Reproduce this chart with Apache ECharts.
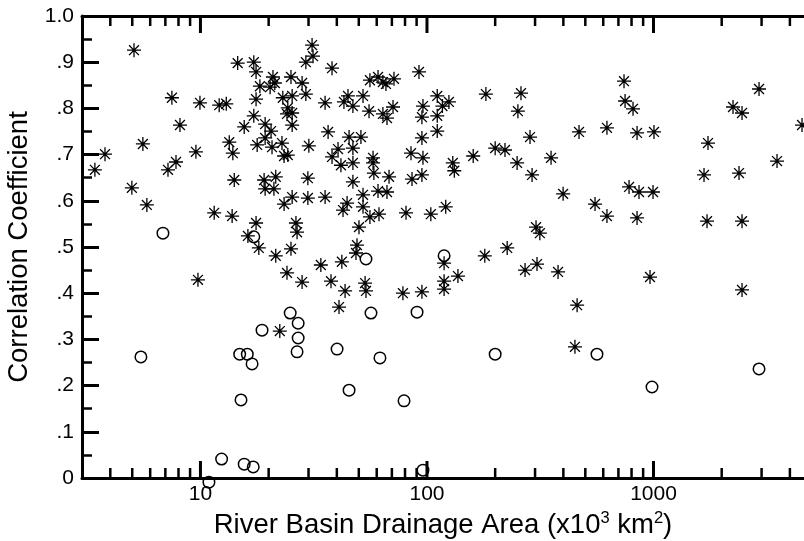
<!DOCTYPE html>
<html>
<head>
<meta charset="utf-8">
<script src="https://cdn.jsdelivr.net/npm/echarts@6/dist/echarts.min.js"></script>
<style>html,body{margin:0;padding:0;background:#fff;}#c{width:804px;height:541px;}</style>
</head>
<body>
<div id="c"></div>
<script>
// Asterisk points: drainage area (x10^3 km^2) and correlation coefficient
const starArea = [3.42,3.79,5.09,4.98,5.57,5.80,7.19,7.80,7.48,8.12,9.55,9.95,9.75,11.5,12.1,13.0,13.4,13.9,13.8,14.1,14.6,15.6,16.2,17.2,17.6,17.6,17.2,17.8,17.6,18.1,18.3,19.1,19.3,21.1,21.5,19.3,20.5,19.3,20.7,20.3,20.9,21.3,21.5,22.4,22.9,23.1,23.4,24.3,23.4,24.1,24.3,24.1,25.4,25.4,25.1,25.4,25.1,25.4,26.4,26.7,28.1,28.1,29.2,29.2,29.8,29.8,30.1,31.1,31.4,34.0,35.5,35.5,36.6,37.7,38.1,38.1,40.5,40.9,41.7,42.1,42.6,43.0,44.4,44.8,45.3,43.5,47.1,47.1,47.1,47.1,49.1,48.6,50.1,51.1,52.2,52.2,52.2,53.3,53.8,55.5,56.0,56.0,57.8,57.8,58.3,60.8,60.8,61.4,63.9,65.9,63.9,66.6,70.8,66.6,68.0,71.5,78.3,80.8,85.0,85.9,92.2,95.0,96.0,95.0,95.0,96.0,95.0,104,111,117,125,111,111,119,119,119,121,130,132,137,160,182,180,200,221,226,250,260,252,271,285,291,303,315,306,353,379,399,460,450,469,552,623,623,741,749,812,780,863,995,846,1005,846,965,1671,1740,1723,2244,2459,2385,2459,2459,2923,3510,4525];
const starCorr = [0.667,0.701,0.926,0.628,0.723,0.591,0.667,0.684,0.823,0.764,0.706,0.812,0.429,0.574,0.807,0.810,0.727,0.703,0.567,0.645,0.898,0.760,0.524,0.900,0.879,0.820,0.784,0.721,0.552,0.498,0.848,0.645,0.626,0.626,0.652,0.766,0.751,0.736,0.716,0.846,0.868,0.855,0.481,0.318,0.725,0.823,0.697,0.699,0.593,0.444,0.801,0.788,0.790,0.764,0.868,0.608,0.496,0.827,0.552,0.532,0.855,0.424,0.831,0.900,0.649,0.606,0.719,0.937,0.913,0.461,0.608,0.812,0.749,0.426,0.887,0.695,0.712,0.370,0.677,0.468,0.580,0.814,0.595,0.827,0.738,0.405,0.805,0.714,0.682,0.641,0.504,0.487,0.543,0.738,0.827,0.613,0.587,0.422,0.405,0.794,0.565,0.861,0.693,0.682,0.660,0.868,0.621,0.571,0.857,0.853,0.788,0.779,0.803,0.619,0.652,0.864,0.400,0.574,0.703,0.647,0.879,0.656,0.805,0.781,0.736,0.693,0.403,0.571,0.827,0.805,0.814,0.784,0.751,0.409,0.426,0.465,0.587,0.682,0.665,0.437,0.697,0.831,0.481,0.714,0.710,0.498,0.682,0.833,0.794,0.450,0.738,0.656,0.543,0.530,0.463,0.693,0.446,0.615,0.374,0.284,0.749,0.593,0.567,0.758,0.859,0.816,0.799,0.630,0.619,0.619,0.747,0.749,0.563,0.435,0.656,0.725,0.556,0.803,0.790,0.660,0.556,0.407,0.842,0.686,0.764];
// Open-circle points
const circleArea = [6.83,5.46,14.9,16.1,16.9,15.1,12.4,15.6,17.1,10.9,17.2,18.7,24.9,27.0,27.0,26.7,40.1,62.0,45.3,79.2,53.8,56.6,90.4,119,200,96.0,563,985,2923];
const circleCorr = [0.530,0.262,0.268,0.268,0.247,0.169,0.041,0.030,0.024,-0.009,0.522,0.320,0.357,0.335,0.303,0.273,0.279,0.260,0.190,0.167,0.474,0.357,0.359,0.481,0.268,0.017,0.268,0.197,0.236];
// Axis ticks
const xMajorTicks = [10, 100, 1000];
const xMinorTicks = [4,5,6,7,8,9,20,30,40,50,60,70,80,90,200,300,400,500,600,700,800,900,2000,3000,4000];
const yTickLabels = {0:'0',1:'.1',2:'.2',3:'.3',4:'.4',5:'.5',6:'.6',7:'.7',8:'.8',9:'.9',10:'1.0'};

const FONT = "'Liberation Sans', Arial, Helvetica, sans-serif";
const chart = echarts.init(document.getElementById('c'), null, {renderer:'canvas'});

function tickSeries(values, len, width){
  return {
    type:'custom', coordinateSystem:'cartesian2d', xAxisIndex:0, yAxisIndex:0,
    silent:true, clip:false, z:5,
    data: values.map(v => [v, 0]),
    renderItem: function(params, api){
      const v = api.value(0);
      const b = api.coord([v, 0]);
      const t = api.coord([v, 1]);
      return {type:'group', children:[
        {type:'line', shape:{x1:b[0], y1:b[1], x2:b[0], y2:b[1]-len}, style:{stroke:'#000', lineWidth:width}},
        {type:'line', shape:{x1:t[0], y1:t[1], x2:t[0], y2:t[1]+len}, style:{stroke:'#000', lineWidth:width}}
      ]};
    }
  };
}

const option = {
  animation:false,
  backgroundColor:'#fff',
  textStyle:{fontFamily:FONT, color:'#000'},
  grid:{left:82, top:16, right:0, bottom:63, containLabel:false, outerBoundsMode:'none'},
  xAxis:[{
    type:'log', min:3, max:4617, logBase:10, position:'bottom',
    axisLine:{show:true, onZero:false, lineStyle:{color:'#000', width:3}},
    axisTick:{show:false}, splitLine:{show:false}, minorTick:{show:false},
    axisLabel:{margin:6, color:'#000', fontSize:21, fontFamily:FONT,
      formatter: v => (xMajorTicks.indexOf(Math.round(v)) >= 0 && Math.abs(v-Math.round(v))<1e-6) ? String(Math.round(v)) : ''},
    name:'{t|River Basin Drainage Area (x10}{sup|3}{t| km}{sup|2}{t|)}',
    nameLocation:'middle', nameGap:31,
    nameTextStyle:{color:'#000', fontSize:27.5, fontFamily:FONT, verticalAlign:'top',
      rich:{
        t:{fontSize:27.5, fontFamily:FONT, color:'#000', lineHeight:30, verticalAlign:'bottom'},
        sup:{fontSize:16.5, fontFamily:FONT, color:'#000', lineHeight:18, verticalAlign:'top'}
      }}
  },{
    type:'log', min:3, max:4617, logBase:10, position:'top',
    axisLine:{show:true, onZero:false, lineStyle:{color:'#000', width:3}},
    axisTick:{show:false}, axisLabel:{show:false}, splitLine:{show:false}
  }],
  yAxis:[{
    type:'value', min:0, max:1, interval:0.1,
    axisLine:{show:true, onZero:false, lineStyle:{color:'#000', width:3}},
    axisTick:{show:true, inside:true, length:17, lineStyle:{color:'#000', width:3}},
    minorTick:{show:true, splitNumber:2, length:10, lineStyle:{color:'#000', width:2.5}},
    splitLine:{show:false},
    axisLabel:{margin:8, color:'#000', fontSize:21, fontFamily:FONT,
      formatter: v => yTickLabels[Math.round(v*10)]},
    name:'Correlation Coefficient', nameLocation:'middle', nameGap:46, nameRotate:90,
    nameTextStyle:{color:'#000', fontSize:27.5, fontFamily:FONT}
  }],
  series:[
    tickSeries(xMajorTicks, 17, 3),
    tickSeries(xMinorTicks, 10, 2.5),
    {
      type:'scatter', name:'stars', clip:false, z:3,
      symbol:'path://M0,-7L0,7M-7,0L7,0M-4.95,-4.95L4.95,4.95M-4.95,4.95L4.95,-4.95',
      symbolSize:14,
      itemStyle:{color:'rgba(0,0,0,0)', borderColor:'#000', borderWidth:1.3, opacity:1},
      data: starArea.map((a,i) => [a, starCorr[i]])
    },
    {
      type:'scatter', name:'circles', clip:false, z:3,
      symbol:'circle', symbolSize:11.5,
      itemStyle:{color:'rgba(0,0,0,0)', borderColor:'#000', borderWidth:1.5, opacity:1},
      data: circleArea.map((a,i) => [a, circleCorr[i]])
    }
  ]
};
chart.setOption(option);
</script>
</body>
</html>
